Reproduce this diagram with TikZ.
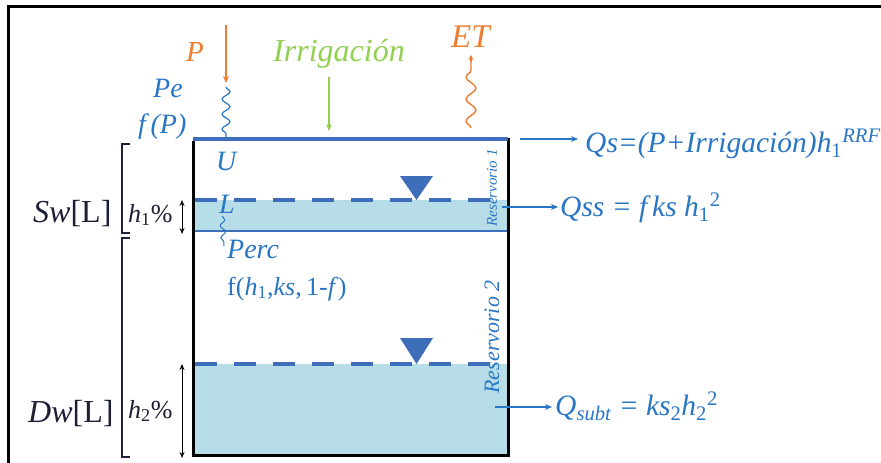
\documentclass[tikz,border=0pt]{standalone}
\usepackage{fontspec}
\setmainfont{Liberation Serif}
\usetikzlibrary{arrows.meta,decorations.pathmorphing}
\definecolor{tblue}{RGB}{40,118,196}
\definecolor{lblue}{RGB}{62,110,185}
\definecolor{water}{RGB}{182,221,232}
\definecolor{orng}{RGB}{237,125,49}
\definecolor{grn}{RGB}{146,208,80}
\definecolor{navy}{RGB}{30,30,55}
\newcommand\lowi[1]{\textsubscript{#1}}
\newcommand\upi[1]{\textsuperscript{#1}}
\begin{document}
\begin{tikzpicture}[x=1pt,y=-1pt,
  lab/.style={inner sep=0pt, anchor=base west},
  bluelab/.style={lab, text=tblue, font=\itshape\fontsize{28}{30}\selectfont},
  eqlab/.style={lab, text=tblue, font=\itshape\fontsize{29.5}{31}\selectfont},
  sidelab/.style={lab, text=navy, font=\fontsize{32}{34}\selectfont},
  hlab/.style={lab, text=navy, font=\fontsize{26}{28}\selectfont},
  flowarrow/.style={-{Stealth[length=7pt,width=6pt]}, line width=1.4pt, draw=tblue},
  wavy/.style={decorate, decoration={snake, segment length=15pt, amplitude=4pt}, line width=1.2pt},
  dbl/.style={{Stealth[length=6pt,width=5pt]}-{Stealth[length=6pt,width=5pt]}, line width=1pt},
  brk/.style={line width=1.8pt, navy},
  wline/.style={lblue, line width=4pt, dash pattern=on 22pt off 17pt},
  tri/.style={fill=lblue, draw=none}
]
\useasboundingbox (0,0) rectangle (881,463);
\fill[white] (0,0) rectangle (881,463);
% outer frame (only top and left visible)
\draw[line width=3pt] (881,6) -- (8,6) -- (8,463);

% water
\fill[water] (193,200) rectangle (508,231);
\fill[water] (193,364) rectangle (508,455);
\draw[lblue, line width=1.4pt] (193,231) -- (508,231);
\draw[wline] (195,200) -- (508,200);
\draw[wline] (195,364) -- (508,364);
\fill[tri] (400,176) -- (433,176) -- (416.5,200) -- cycle;
\fill[tri] (400,338) -- (433,338) -- (416.5,364) -- cycle;

% tank
\draw[line width=3pt] (193,141) -- (193,455) -- (508,455) -- (508,138);
\draw[lblue, line width=4pt] (193,139) -- (508,139);

% reservoir labels
\node[text=tblue, font=\itshape\fontsize{15}{16}\selectfont, rotate=90, inner sep=0pt] (r1) at (492,188) {Reservorio 1};
\node[text=tblue, font=\itshape\fontsize{22}{24}\selectfont, rotate=90, inner sep=0pt] (r2) at (492,337) {Reservorio 2};

% precipitation
\node[lab, text=orng, font=\itshape\fontsize{29}{31}\selectfont] (P) at (186,61) {P};
\coordinate (pa) at (226,25);
\coordinate (pb) at (226,83);
\draw[orng, line width=1.3pt, -{Stealth[length=7pt,width=6pt]}] (pa) -- (pb);
\coordinate (pc) at (226,87);
\coordinate (pd) at (226,139);
\draw[wavy, tblue] (pc) -- (pd);
\node[bluelab] (Pe) at (153,97) {Pe};
\node[bluelab] (fP) at (138,133) {f\,(P)};

% irrigation
\node[lab, text=grn, font=\itshape\fontsize{32}{34}\selectfont] (irr) at (273,61) {Irrigación};
\coordinate (ia) at (329,77);
\coordinate (ib) at (329,131);
\draw[grn, line width=1.3pt, -{Stealth[length=7pt,width=6pt]}] (ia) -- (ib);

% ET
\node[lab, text=orng, font=\itshape\fontsize{33}{35}\selectfont] (ET) at (451,47) {ET};
\coordinate (ea) at (471,128);
\coordinate (eb) at (471,55);
\draw[orng, decorate, decoration={snake, segment length=22pt, amplitude=5pt}, line width=1.4pt] (ea) -- (471,62);
\draw[orng, line width=1.4pt, -{Stealth[length=5pt,width=5pt]}] (471,62) -- (eb);

% U, L, percolation
\node[bluelab] (U) at (216,170) {U};
\node[bluelab] (L) at (219,213) {L};
\coordinate (la) at (222,216);
\coordinate (lb) at (224,246);
\draw[wavy, tblue, line width=1pt, decoration={snake, segment length=12pt, amplitude=2.5pt}] (la) -- (lb);
\node[bluelab] (perc) at (227,258) {Perc};
\node[lab, text=tblue, font=\fontsize{26}{28}\selectfont] (fperc) at (227,295) {f(\textit{h}\lowi{1},\textit{ks},\,1-\textit{f})};

% outflows
\coordinate (qsa) at (520,139);
\coordinate (qsb) at (578,139);
\draw[flowarrow] (qsa) -- (qsb);
\node[eqlab] (qs) at (585,152) {Qs=(P+Irrigación)h\lowi{\upshape1}\upi{RRF}};

\coordinate (qssa) at (502,207);
\coordinate (qssb) at (558,207);
\draw[flowarrow] (qssa) -- (qssb);
\node[eqlab] (qss) at (560,216) {Qss = f\,ks h\lowi{\upshape1}\upi{\upshape2}};

\coordinate (qsua) at (495,407);
\coordinate (qsub) at (552,407);
\draw[flowarrow] (qsua) -- (qsub);
\node[eqlab] (qsu) at (555,415) {Q\lowi{subt} = ks\lowi{\upshape2}h\lowi{\upshape2}\upi{\upshape2}};

% left brackets
\draw[brk] (130,144) -- (122,144) -- (122,233) -- (130,233);
\draw[brk] (130,238) -- (122,238) -- (122,457) -- (130,457);
\node[sidelab] (sw) at (33,222) {\textit{Sw}[L]};
\node[sidelab] (dw) at (28,422) {\textit{Dw}[L]};
\node[hlab] (h1) at (128,222) {\textit{h}\lowi{1}\%};
\node[hlab] (h2) at (128,418) {\textit{h}\lowi{2}\%};
\coordinate (d1a) at (182,200);
\coordinate (d1b) at (182,234);
\draw[dbl] (d1a) -- (d1b);
\coordinate (d2a) at (182,364);
\coordinate (d2b) at (182,458);
\draw[dbl] (d2a) -- (d2b);
\end{tikzpicture}
\end{document}
